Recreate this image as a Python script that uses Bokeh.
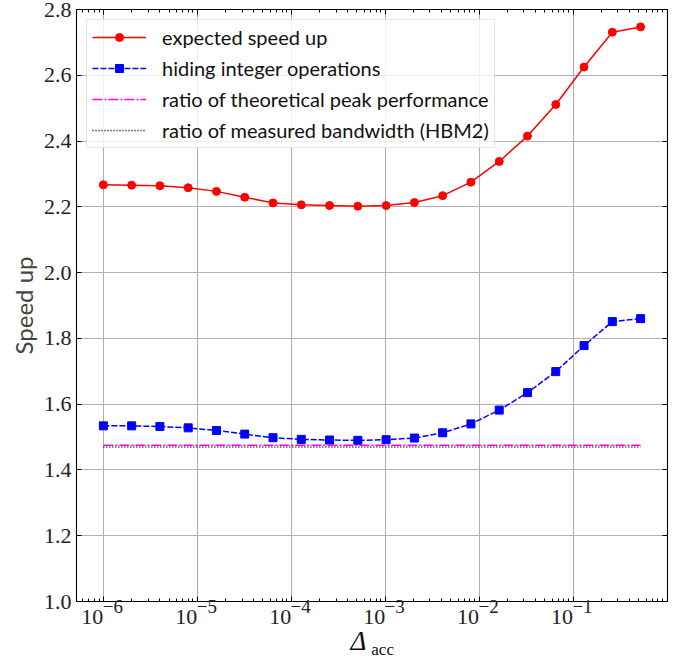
from bokeh.plotting import figure
from bokeh.models import FixedTicker, LogAxis, LinearAxis, CustomJSTickFormatter, PrintfTickFormatter, Range1d
from bokeh.embed import file_html
from bokeh.resources import INLINE

# ---- data ----
delta_acc = [1.0e-6, 2.0e-6, 4.0e-6, 8.0e-6, 1.6e-5, 3.2e-5, 6.4e-5, 1.28e-4, 2.56e-4, 5.12e-4,
             1.024e-3, 2.048e-3, 4.096e-3, 8.192e-3, 1.6384e-2, 3.2768e-2, 6.5536e-2,
             0.131072, 0.262144, 0.524288]
expected_speed_up = [2.267, 2.266, 2.264, 2.258, 2.247, 2.229, 2.212, 2.206, 2.204, 2.202,
                     2.204, 2.213, 2.234, 2.275, 2.338, 2.415, 2.511, 2.625, 2.731, 2.747]
hiding_integer_ops = [1.534, 1.534, 1.532, 1.528, 1.520, 1.509, 1.498, 1.493, 1.491, 1.490,
                      1.492, 1.497, 1.513, 1.540, 1.582, 1.635, 1.699, 1.778, 1.851, 1.860]
peak_ratio = [1.475] * len(delta_acc)
bandwidth_ratio = [1.470] * len(delta_acc)

x_major = [1e-6, 1e-5, 1e-4, 1e-3, 1e-2, 1e-1]
x_minor = [m * 10.0 ** e for e in range(-7, 1) for m in range(2, 10)]
y_major = [1.0, 1.2, 1.4, 1.6, 1.8, 2.0, 2.2, 2.4, 2.6, 2.8]

labels = ["expected speed up", "hiding integer operations",
          "ratio of theoretical peak performance", "ratio of measured bandwidth (HBM2)"]
x_label_main = "\u0394"
x_label_sub = "acc"

TICK_FONT = "Liberation Serif"
SANS = "Lato"
NB = "\u00a0"

p = figure(x_axis_type="log", output_backend="svg", toolbar_location=None,
           frame_width=591, frame_height=592,
           min_border_left=76, min_border_right=17, min_border_top=9, min_border_bottom=56,
           x_range=Range1d(10 ** -6.286, 10 ** 0.006), y_range=Range1d(1.0, 2.8))
p.background_fill_color = "white"
p.border_fill_color = "white"
p.outline_line_color = "black"
p.outline_line_width = 1.1

# grid
p.xgrid.ticker = FixedTicker(ticks=x_major)
p.ygrid.ticker = FixedTicker(ticks=y_major)
for g in (p.xgrid, p.ygrid):
    g.grid_line_color = "#b0b0b0"
    g.grid_line_width = 1.1

# mantissa "10" (shifted left of the tick) and exponent (raised, right of the tick)
base_fmt = CustomJSTickFormatter(code='return "10" + "\\u00a0\\u00a0\\u00a0\\u00a0";')
exp_fmt = CustomJSTickFormatter(code="""
const e = Math.round(Math.log10(tick));
return "\\u00a0\\u00a0\\u00a0\\u00a0" + (e < 0 ? "\\u2212" : "") + String(Math.abs(e));
""")

xa = p.xaxis[0]
xa.ticker = FixedTicker(ticks=x_major, minor_ticks=x_minor)
xa.formatter = base_fmt
ya = p.yaxis[0]
ya.ticker = FixedTicker(ticks=y_major)
ya.formatter = PrintfTickFormatter(format="%.1f")
ya.axis_label = "Speed up"
ya.axis_label_text_font = SANS
ya.axis_label_text_font_size = "24px"
ya.axis_label_text_font_style = "normal"
ya.axis_label_standoff = 3

for ax in (xa, ya):
    ax.axis_line_color = None
    ax.major_tick_in = 5
    ax.major_tick_out = 0
    ax.minor_tick_in = 3
    ax.minor_tick_out = 0
    ax.major_tick_line_color = "black"
    ax.minor_tick_line_color = "black"
    ax.major_label_text_font = TICK_FONT
    ax.major_label_text_font_size = "22px"
    ax.major_label_text_color = "#222222"
    ax.major_label_standoff = 5
xa.major_label_standoff = 2
ya.minor_tick_line_color = None

# exponent row
exp_axis = LogAxis(ticker=FixedTicker(ticks=x_major), formatter=exp_fmt,
                   axis_line_color=None, major_tick_line_color=None, minor_tick_line_color=None,
                   major_tick_in=0, major_tick_out=0, minor_tick_in=0, minor_tick_out=0,
                   major_label_text_font=TICK_FONT, major_label_text_font_size="19px",
                   major_label_text_color="#222222", major_label_standoff=-36)
# x-axis label: italic Delta, then subscript "acc"
lbl_axis = LinearAxis(ticker=FixedTicker(ticks=[]), axis_line_color=None,
                      major_tick_line_color=None, minor_tick_line_color=None,
                      major_tick_out=0, minor_tick_out=0, major_label_standoff=0,
                      axis_label=x_label_main + NB * 4, axis_label_standoff=-6,
                      axis_label_text_font=TICK_FONT, axis_label_text_font_size="27px",
                      axis_label_text_font_style="italic", axis_label_text_color="#111111")
sub_axis = LinearAxis(ticker=FixedTicker(ticks=[]), axis_line_color=None,
                      major_tick_line_color=None, minor_tick_line_color=None,
                      major_tick_out=0, minor_tick_out=0, major_label_standoff=0,
                      axis_label=NB * 5 + x_label_sub, axis_label_standoff=-19,
                      axis_label_text_font=TICK_FONT, axis_label_text_font_size="17px",
                      axis_label_text_font_style="normal", axis_label_text_color="#111111")
p.add_layout(exp_axis, "below")
p.add_layout(lbl_axis, "below")
p.add_layout(sub_axis, "below")

top = LogAxis(ticker=FixedTicker(ticks=x_major, minor_ticks=x_minor),
              major_label_text_font_size="1px", major_label_text_color=None,
              major_label_standoff=0,
              axis_line_color=None, major_tick_in=5, major_tick_out=0,
              minor_tick_in=3, minor_tick_out=0)
right = LinearAxis(ticker=FixedTicker(ticks=y_major),
                   major_label_text_font_size="1px", major_label_text_color=None,
                   major_label_standoff=0,
                   axis_line_color=None, major_tick_in=5, major_tick_out=0,
                   minor_tick_line_color=None)
p.add_layout(top, "above")
p.add_layout(right, "right")

# series
p.line(delta_acc, expected_speed_up, color="#ff0000", line_width=1.5, legend_label=labels[0])
p.scatter(delta_acc, expected_speed_up, marker="circle", size=8, color="#ff0000", legend_label=labels[0])
p.line(delta_acc, hiding_integer_ops, color="#0000ff", line_width=1.5, line_dash="6 2",
       legend_label=labels[1])
p.scatter(delta_acc, hiding_integer_ops, marker="square", size=8, color="#0000ff", legend_label=labels[1])
p.line(delta_acc, peak_ratio, color="#ff00ff", line_width=1.5, line_dash="10 2 2 2",
       legend_label=labels[2])
p.line(delta_acc, bandwidth_ratio, color="black", line_width=1.5, line_dash="1 2",
       legend_label=labels[3])

lg = p.legend[0]
lg.location = "top_left"
lg.margin = 10
lg.padding = 5
lg.spacing = 7
lg.glyph_width = 54
lg.glyph_height = 20
lg.label_height = 20
lg.label_standoff = 16
lg.label_text_font = SANS
lg.label_text_font_size = "20px"
lg.label_text_color = "#111111"
lg.border_line_color = "#cccccc"
lg.border_line_width = 1
lg.background_fill_color = "white"
lg.background_fill_alpha = 0.8

open("out.html", "w").write(file_html(p, INLINE))
